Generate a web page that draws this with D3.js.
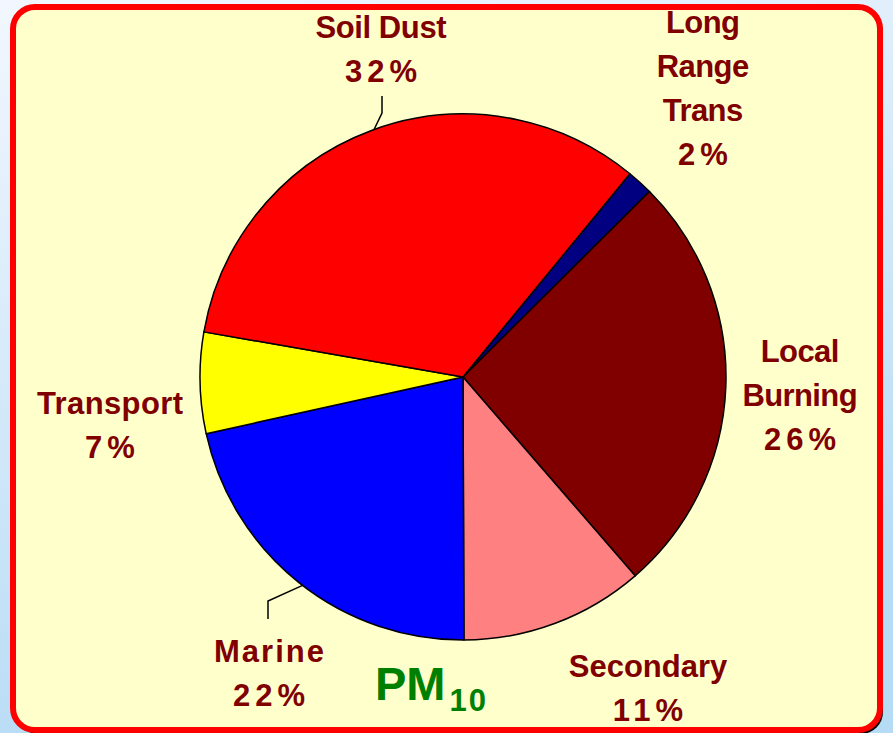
<!DOCTYPE html>
<html><head><meta charset="utf-8">
<script src="https://cdn.jsdelivr.net/npm/d3@7"></script>
<style>html,body{margin:0;padding:0;overflow:hidden;}</style>
</head><body>
<svg id="c" width="893" height="733"></svg>
<script>
// Data (clockwise order, starting from the top-right)
const categories = ["Long Range Trans", "Local Burning", "Secondary", "Marine", "Transport", "Soil Dust"];
const values = [1.6, 26.1, 11.3, 21.6, 6.2, 33.2];
const pctLabels = ["2%", "26%", "11%", "22%", "7%", "32%"];
const colors = ["#000080", "#800000", "#FF8080", "#0000FF", "#FFFF00", "#FF0000"];
const labelLines = [["Long", "Range", "Trans"], ["Local", "Burning"], ["Secondary"], ["Marine"], ["Transport"], ["Soil Dust"]];

const svg = d3.select("#c");
const defs = svg.append("defs");
const g = defs.append("linearGradient").attr("id","bg").attr("x1",0).attr("y1",0).attr("x2",0.3).attr("y2",1);
g.append("stop").attr("offset","0%").attr("stop-color","#F2F7FE");
g.append("stop").attr("offset","100%").attr("stop-color","#B5DBF5");
svg.append("rect").attr("width",893).attr("height",733).attr("fill","url(#bg)");

// frame with shadow
svg.append("rect").attr("x",16).attr("y",10).attr("width",867).attr("height",724).attr("rx",22).attr("fill","#000");
svg.append("rect").attr("x",13).attr("y",7).attr("width",867).attr("height",723).attr("rx",22)
  .attr("fill","#FFFFCC").attr("stroke","#FF0000").attr("stroke-width",6);

const cx = 463, cy = 377, R = 263;
const start = 39.4 * Math.PI / 180;
const pie = d3.pie().sort(null).value(d => d).startAngle(start).endAngle(start + 2 * Math.PI);
const arcs = pie(values);
const arc = d3.arc().innerRadius(0).outerRadius(R);

const pg = svg.append("g").attr("transform", `translate(${cx},${cy})`);
pg.selectAll("path").data(arcs).join("path")
  .attr("d", arc).attr("fill", (d, i) => colors[i])
  .attr("stroke", "#000").attr("stroke-width", 1.5).attr("stroke-linejoin","round");

// label positions (centers) and first baseline
const labelPos = [
  {x: 703, y: 33, ls: -0.6},
  {x: 800, y: 362, ls: -0.6},
  {x: 648, y: 677, ls: 0},
  {x: 269, y: 662, ls: 2},
  {x: 110, y: 414, ls: 0.4},
  {x: 381, y: 38, ls: -0.4}
];
const lh = 44;
const tg = svg.append("g").attr("font-family","'Liberation Sans', Arial, sans-serif")
  .attr("font-weight","bold").attr("font-size",31).attr("fill","#800000").attr("text-anchor","middle");
categories.forEach((c, i) => {
  const p = labelPos[i];
  const t = tg.append("text").attr("x", p.x).attr("y", p.y);
  labelLines[i].forEach((ln, k) => {
    t.append("tspan").attr("x", p.x + p.ls / 2).attr("y", p.y + k * lh).attr("letter-spacing", p.ls).text(ln);
  });
  t.append("tspan").attr("x", p.x + 2.5).attr("y", p.y + labelLines[i].length * lh)
    .attr("letter-spacing", 5).text(pctLabels[i]);
});

// leader lines (anchored on arc edges)
const leaders = [
  {i: 5, f: 0.505, pts: [[382,113],[382,96]]},
  {i: 3, f: 0.486, pts: [[268,601],[268,619]]}
];
leaders.forEach(l => {
  const a = arcs[l.i];
  const ang = a.startAngle + (a.endAngle - a.startAngle) * l.f;
  const p0 = [cx + R * Math.sin(ang), cy - R * Math.cos(ang)];
  svg.append("path").attr("d", d3.line()([p0, ...l.pts])).attr("fill","none")
    .attr("stroke","#000").attr("stroke-width",1.5);
});

// PM10 title
const pm = svg.append("text").attr("x",375).attr("y",700).attr("font-family","'Liberation Sans', Arial, sans-serif")
  .attr("font-weight","bold").attr("fill","#008000");
pm.append("tspan").attr("font-size",47).text("PM");
pm.append("tspan").attr("font-size",31).attr("dx",4).attr("dy",11).attr("letter-spacing",2).text("10");
</script>
</body></html>
